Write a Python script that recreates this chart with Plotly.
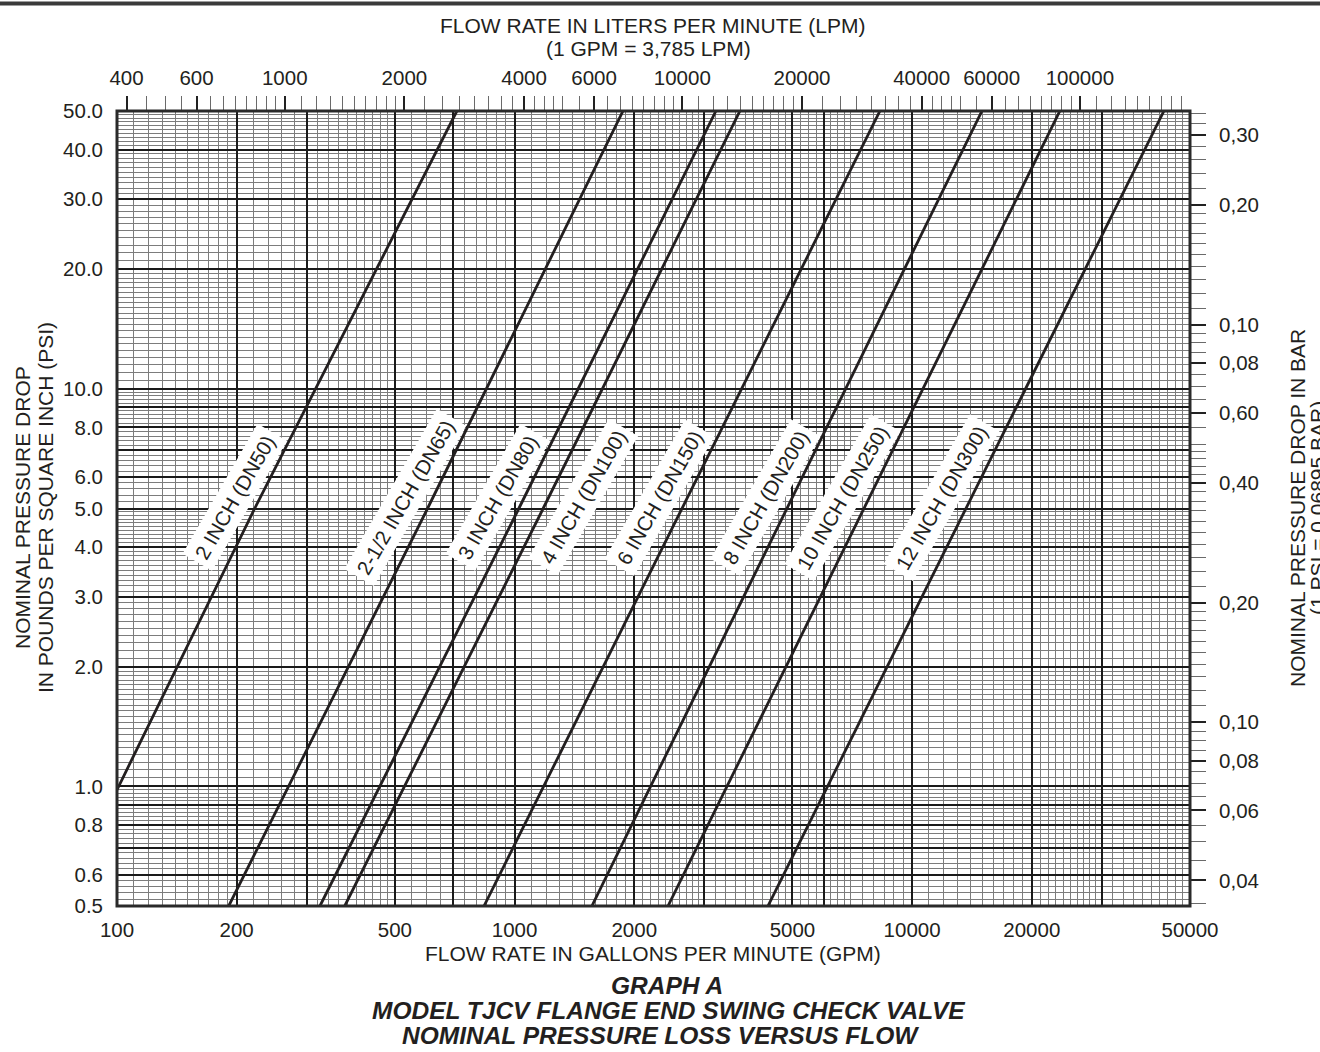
import math
import numpy as np
import plotly.graph_objects as go

# ---------------- data ----------------
sizes = ["2 INCH (DN50)", "2-1/2 INCH (DN65)", "3 INCH (DN80)", "4 INCH (DN100)",
         "6 INCH (DN150)", "8 INCH (DN200)", "10 INCH (DN250)", "12 INCH (DN300)"]

flow_2in = [100, 222, 716]
flow_2_5in = [191, 604, 1874]
flow_3in = [324, 1025, 3210]
flow_4in = [374, 1180, 3689]
flow_6in = [838, 2634, 8299]
flow_8in = [1565, 4836, 14985]
flow_10in = [2432, 7555, 23530]
flow_12in = [4339, 13640, 42990]

psi_2in = [0.98, 5.0, 50.0]
psi_other = [0.5, 5.0, 50.0]

gpm_tick_vals = [100, 200, 500, 1000, 2000, 5000, 10000, 20000, 50000]
gpm_tick_text = ["100", "200", "500", "1000", "2000", "5000", "10000", "20000", "50000"]
lpm_tick_vals = [400, 600, 1000, 2000, 4000, 6000, 10000, 20000, 40000, 60000, 100000]
psi_tick_vals = [0.5, 0.6, 0.8, 1.0, 2.0, 3.0, 4.0, 5.0, 6.0, 8.0, 10.0, 20.0, 30.0, 40.0, 50.0]
psi_tick_text = ["0.5", "0.6", "0.8", "1.0", "2.0", "3.0", "4.0", "5.0", "6.0", "8.0",
                 "10.0", "20.0", "30.0", "40.0", "50.0"]
bar_tick_vals = [0.04, 0.06, 0.08, 0.1, 0.2, 0.4, 0.6, 0.8, 1.0, 2.0, 3.0]
bar_tick_text = ["0,04", "0,06", "0,08", "0,10", "0,20", "0,40", "0,60", "0,08", "0,10", "0,20", "0,30"]

GPM_TO_LPM = 3.785
PSI_TO_BAR = 0.06895
X_RANGE = (100, 50000)
Y_RANGE = (0.5, 50)

flows = [flow_2in, flow_2_5in, flow_3in, flow_4in, flow_6in, flow_8in, flow_10in, flow_12in]
psis = [psi_2in] + [psi_other] * 7

# ---------------- styling ----------------
FONT = "Liberation Sans, Arial, Helvetica, sans-serif"
INK = "#231f20"
label_shift = [-26, -28, -27, 34, -28, -27, -27, -30]   # px offset of each label from its curve


def steps(segments):
    out = []
    for a, b, s in segments:
        n = int(round((b - a) / s))
        for i in range(n):
            out.append(round(a + i * s, 6))
    return out


x_minor = steps([(100, 200, 10), (200, 500, 20), (500, 1000, 50), (1000, 2000, 100),
                 (2000, 3000, 100), (3000, 5000, 200), (5000, 7000, 250), (7000, 10000, 500),
                 (10000, 20000, 1000), (20000, 30000, 1000), (30000, 50000, 2000)])
x_major = [200, 300, 500, 700, 1000, 2000, 3000, 5000, 6000, 10000, 20000, 30000]
y_minor = steps([(0.5, 1, 0.02), (1, 2, 0.05), (2, 5, 0.1), (5, 10, 0.2), (10, 20, 0.5), (20, 50, 1)])
y_major = [0.6, 0.7, 0.8, 0.9, 1, 2, 3, 4, 5, 6, 7, 8, 9, 10, 20, 30, 40]
lpm_minor = steps([(400, 1000, 50), (1000, 2000, 100), (2000, 5000, 250), (5000, 10000, 500),
                   (10000, 20000, 1000), (20000, 50000, 2500), (50000, 100000, 5000),
                   (100000, 190000, 10000)])
bar_minor = steps([(0.035, 0.1, 0.005), (0.1, 0.2, 0.01), (0.2, 0.5, 0.02), (0.5, 1.0, 0.05),
                   (1.0, 2.0, 0.1), (2.0, 3.5, 0.2)])

x_grid_vals = sorted(set(x_major + gpm_tick_vals))
x_grid_text = [gpm_tick_text[gpm_tick_vals.index(v)] if v in gpm_tick_vals else "" for v in x_grid_vals]
y_grid_vals = sorted(set(y_major + psi_tick_vals))
y_grid_text = [psi_tick_text[psi_tick_vals.index(v)] if v in psi_tick_vals else "" for v in y_grid_vals]

fig = go.Figure()

for name, fx, fy in zip(sizes, flows, psis):
    fig.add_trace(go.Scatter(x=fx, y=fy, mode="lines", name=name,
                             line=dict(color=INK, width=2.8), showlegend=False,
                             hoverinfo="skip"))

# invisible traces to activate the secondary (LPM / BAR) axes
fig.add_trace(go.Scatter(x=[X_RANGE[0] * GPM_TO_LPM], y=[1], xaxis="x2", yaxis="y",
                         mode="markers", marker=dict(opacity=0), showlegend=False, hoverinfo="skip"))
fig.add_trace(go.Scatter(x=[X_RANGE[0]], y=[0.1], xaxis="x", yaxis="y2",
                         mode="markers", marker=dict(opacity=0), showlegend=False, hoverinfo="skip"))

# curve labels next to each curve at a common pressure level
label_psi = 5.34
for name, fx, fy, sh in zip(sizes, flows, psis, label_shift):
    lx = np.interp(math.log10(label_psi), np.log10(fy), np.log10(fx))
    fig.add_annotation(x=lx, y=math.log10(label_psi), xref="x", yref="y",
                       text=name, textangle=-60, showarrow=False, xshift=sh,
                       font=dict(family=FONT, size=20.5, color=INK),
                       bgcolor="white", borderpad=5)

tickfont = dict(family=FONT, size=20.5, color=INK)
MAJ = "#1a1a1a"
MIN = "#7c7c7c"

fig.update_layout(
    width=1320, height=1052,
    margin=dict(l=117, r=130, t=111, b=146),
    paper_bgcolor="white", plot_bgcolor="white",
    font=dict(family=FONT, color=INK),
    xaxis=dict(type="log", range=[math.log10(X_RANGE[0]), math.log10(X_RANGE[1])],
               tickmode="array", tickvals=x_grid_vals, ticktext=x_grid_text,
               ticks="", tickfont=tickfont, ticklabelstandoff=9,
               showgrid=True, gridcolor=MAJ, gridwidth=2,
               minor=dict(tickvals=x_minor, showgrid=True, gridcolor=MIN, gridwidth=1, ticks=""),
               zeroline=False, showline=False, fixedrange=True),
    yaxis=dict(type="log", range=[math.log10(Y_RANGE[0]), math.log10(Y_RANGE[1])],
               tickmode="array", tickvals=y_grid_vals, ticktext=y_grid_text,
               ticks="", tickfont=tickfont, ticklabelstandoff=13,
               showgrid=True, gridcolor=MAJ, gridwidth=2,
               minor=dict(tickvals=y_minor, showgrid=True, gridcolor=MIN, gridwidth=1, ticks=""),
               zeroline=False, showline=False, fixedrange=True),
    xaxis2=dict(type="log", overlaying="x", side="top", anchor="y",
                range=[math.log10(X_RANGE[0] * GPM_TO_LPM), math.log10(X_RANGE[1] * GPM_TO_LPM)],
                tickmode="array", tickvals=lpm_tick_vals, ticktext=[str(v) for v in lpm_tick_vals],
                ticks="outside", ticklen=14, tickwidth=1.8, tickcolor="#222",
                tickfont=tickfont, ticklabelstandoff=3,
                minor=dict(tickvals=lpm_minor, ticks="outside", ticklen=14, tickwidth=1.3,
                           tickcolor="#6a6a6a", showgrid=False),
                showgrid=False, zeroline=False, showline=False, fixedrange=True),
    yaxis2=dict(type="log", overlaying="y", side="right", anchor="x",
                range=[math.log10(Y_RANGE[0] * PSI_TO_BAR), math.log10(Y_RANGE[1] * PSI_TO_BAR)],
                tickmode="array", tickvals=bar_tick_vals, ticktext=bar_tick_text,
                ticks="outside", ticklen=15, tickwidth=2, tickcolor="#222",
                tickfont=tickfont, ticklabelstandoff=9,
                minor=dict(tickvals=bar_minor, ticks="outside", ticklen=15, tickwidth=1.3,
                           tickcolor="#6a6a6a", showgrid=False),
                showgrid=False, zeroline=False, showline=False, fixedrange=True),
)

# plot frame and top rule
fig.add_shape(type="rect", xref="paper", yref="paper", x0=0, x1=1, y0=0, y1=1,
              line=dict(color="#2a2a2a", width=3), layer="above")


def px(X):
    return (X - 117) / 1073


def py(Y):
    return (906 - Y) / 795


fig.add_shape(type="line", xref="paper", yref="paper",
              x0=px(0), x1=px(1320), y0=py(3.5), y1=py(3.5),
              line=dict(color="#3a3a3a", width=4))


def note(text, X, Y, size=21, angle=0):
    fig.add_annotation(x=px(X), y=py(Y), xref="paper", yref="paper", text=text,
                       showarrow=False, textangle=angle, xanchor="center", yanchor="middle",
                       font=dict(family=FONT, size=size, color=INK))


note("FLOW RATE IN LITERS PER MINUTE (LPM)", 652, 25)
note("(1 GPM = 3,785 LPM)", 648, 48)
note("FLOW RATE IN GALLONS PER MINUTE (GPM)", 653, 953)
note("NOMINAL PRESSURE DROP", 22, 508, angle=-90)
note("IN POUNDS PER SQUARE INCH (PSI)", 45, 508, angle=-90)
note("NOMINAL PRESSURE DROP IN BAR", 1297, 508, angle=-90)
note("(1 PSI = 0,06895 BAR)", 1317, 508, angle=-90)
note("<b><i>GRAPH A</i></b>", 667, 985, size=24.5)
note("<b><i>MODEL TJCV FLANGE END SWING CHECK VALVE</i></b>", 668, 1010, size=24.5)
note("<b><i>NOMINAL PRESSURE LOSS VERSUS FLOW</i></b>", 660, 1035, size=24.5)

fig.write_html("out.html", config={"displayModeBar": False},
               post_script="document.body.style.margin='0px';document.body.style.overflow='hidden';")
